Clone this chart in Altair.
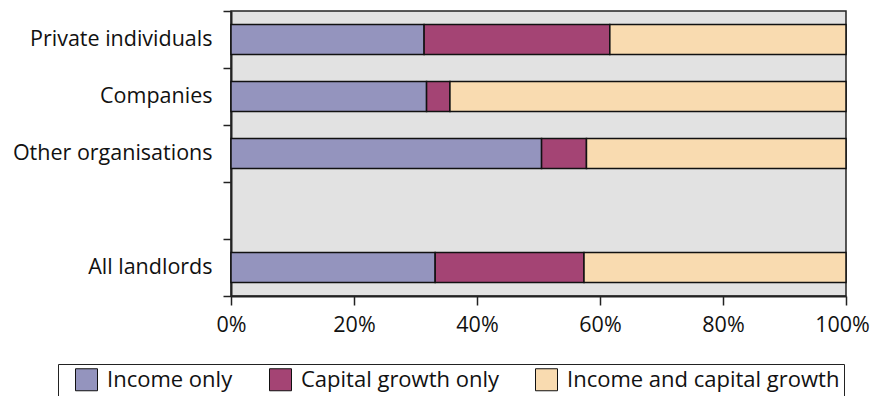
import altair as alt
import pandas as pd

categories = ["Private individuals", "Companies", "Other organisations", "All landlords"]
row_order = ["Private individuals", "Companies", "Other organisations", " ", "All landlords"]
series = ["Income only", "Capital growth only", "Income and capital growth"]
income_only = [31.4, 31.8, 50.5, 33.2]
capital_only = [30.2, 3.8, 7.3, 24.2]
income_capital = [38.4, 64.4, 42.2, 42.6]
colors = ["#9494BE", "#A44474", "#F9DBB0"]
x_ticks = [0, 20, 40, 60, 80, 100]

rows = []
for i, c in enumerate(categories):
    for j, (s, vals) in enumerate(zip(series, [income_only, capital_only, income_capital])):
        rows.append({"category": c, "series": s, "value": vals[i], "order": j})
df = pd.DataFrame(rows)

FONT = "Open Sans"
FS = 21.5

chart = alt.Chart(df).mark_bar(size=30, stroke="#111111", strokeWidth=1.5).encode(
    y=alt.Y("category:N", sort=row_order,
            scale=alt.Scale(domain=row_order, paddingInner=0, paddingOuter=0),
            axis=alt.Axis(title=None, tickBand="extent", tickSize=8, tickColor="#222222",
                          tickWidth=1.5, domainColor="#222222", domainWidth=2,
                          labelFontSize=FS, labelFont=FONT, labelColor="#111111",
                          labelPadding=11, labelLimit=300)),
    x=alt.X("value:Q", stack="zero",
            scale=alt.Scale(domain=[0, 100], nice=False),
            axis=alt.Axis(title=None, values=x_ticks, labelExpr="datum.value + '%'",
                          grid=False, tickSize=9, tickColor="#222222", tickWidth=1.5,
                          domainColor="#222222", domainWidth=2,
                          labelFontSize=FS, labelFont=FONT, labelColor="#111111",
                          labelPadding=9, labelFlush=False,
                          labelOffset=alt.ExprRef("datum.value == 100 ? -4 : 0"))),
    color=alt.Color("series:N", sort=series,
                    scale=alt.Scale(domain=series, range=colors),
                    legend=alt.Legend(title=None, orient="none", direction="horizontal",
                                      legendX=-173, legendY=353,
                                      strokeColor="#222222", padding=4,
                                      symbolType="square", symbolSize=484,
                                      symbolOffset=13,
                                      symbolStrokeColor="#111111", symbolStrokeWidth=1,
                                      symbolOpacity=1, labelLimit=400,
                                      labelFontSize=22, labelFont=FONT, labelColor="#111111",
                                      columnPadding=23, labelOffset=9)),
    order=alt.Order("order:Q"),
).properties(
    width=615, height=285,
    autosize=alt.AutoSizeParams(type="none"),
    padding={"left": 223, "top": 3, "right": 25, "bottom": 100},
).configure_view(
    fill="#E2E2E2", stroke="#222222", strokeWidth=1.5
)

chart.save("out.html", embed_options={"renderer": "svg", "actions": False})
